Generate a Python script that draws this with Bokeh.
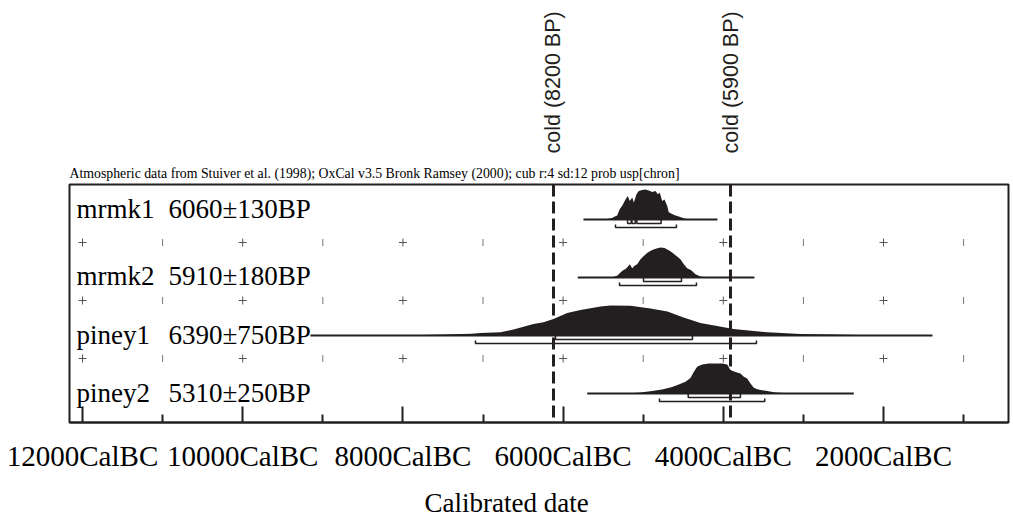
import math
from bokeh.plotting import figure
from bokeh.models import Range1d, FixedTicker, Label, Span, LinearAxis, Title
from bokeh.embed import file_html
from bokeh.resources import INLINE

# ---------------- data ----------------
samples = ["mrmk1", "mrmk2", "piney1", "piney2"]
bp_dates = ["6060\u00b1130BP", "5910\u00b1180BP", "6390\u00b1750BP", "5310\u00b1250BP"]

# calibrated probability (relative to peak) at years BC
mrmk1_bc = [5500, 5450, 5387, 5367, 5325, 5292, 5262, 5221, 5193, 5167, 5137, 5117, 5084, 5055,
            5013, 4972, 4930, 4888, 4847, 4818, 4793, 4763, 4734, 4701, 4681, 4639, 4597, 4556,
            4493, 4451, 4400]
mrmk1_p = [0.0, 0.02, 0.05, 0.08, 0.13, 0.35, 0.46, 0.67, 0.78, 0.62, 0.73, 0.57, 0.84, 0.95,
           0.98, 1.0, 0.97, 0.92, 0.95, 0.84, 0.89, 0.62, 0.67, 0.46, 0.24, 0.18, 0.13, 0.10,
           0.04, 0.01, 0.0]

mrmk2_bc = [5400, 5325, 5284, 5250, 5221, 5193, 5167, 5137, 5109, 5075, 5034, 4993, 4943, 4888,
            4834, 4784, 4734, 4681, 4639, 4585, 4535, 4493, 4451, 4401, 4347, 4285, 4201, 4100]
mrmk2_p = [0.0, 0.06, 0.17, 0.24, 0.28, 0.36, 0.44, 0.31, 0.39, 0.44, 0.61, 0.72, 0.83, 0.92,
           0.97, 1.0, 0.98, 0.91, 0.83, 0.72, 0.61, 0.44, 0.31, 0.24, 0.11, 0.03, 0.01, 0.0]

piney1_bc = [8300, 7905, 7493, 7144, 7031, 6782, 6619, 6370, 6245, 6120, 5949, 5783, 5533, 5408,
             5159, 4909, 4697, 4497, 4285, 4077, 3873, 3452, 3036, 2625, 2163, 1800]
piney1_p = [0.0, 0.01, 0.03, 0.06, 0.08, 0.11, 0.20, 0.38, 0.44, 0.55, 0.75, 0.85, 0.97, 1.0,
            0.99, 0.90, 0.80, 0.60, 0.42, 0.32, 0.22, 0.11, 0.05, 0.03, 0.01, 0.0]

piney2_bc = [5200, 5034, 4888, 4763, 4639, 4556, 4472, 4410, 4369, 4326, 4264, 4181, 4098, 4014,
             3952, 3910, 3848, 3786, 3744, 3702, 3661, 3619, 3577, 3515, 3452, 3349, 3183, 3000]
piney2_p = [0.0, 0.03, 0.08, 0.13, 0.22, 0.30, 0.39, 0.52, 0.72, 0.89, 0.97, 1.0, 1.0, 1.0,
            0.97, 0.78, 0.72, 0.67, 0.56, 0.50, 0.33, 0.19, 0.14, 0.11, 0.08, 0.03, 0.01, 0.0]

# extent of the distribution base line (years BC)
line_start_bc = [5746, 5817, 9154, 5699]
line_end_bc = [4073, 3611, 1389, 2371]

# 68.2% and 95.4% ranges (years BC)
mrmk1_r68 = [(5195, 5150), (5140, 5100), (5080, 4776)]
mrmk1_r95 = [(5346, 4585)]
mrmk2_r68 = [(4996, 4522)]
mrmk2_r95 = [(5296, 4335)]
piney1_r68 = [(6095, 4385)]
piney1_r95 = [(7094, 3586)]
piney2_r68 = [(4438, 3786)]
piney2_r95 = [(4797, 3482)]

# cold events (years BC as drawn)
event_labels = ["cold (8200 BP)", "cold (5900 BP)"]
event_bc = [6120, 3910]

# axis
major_ticks_bc = [12000, 10000, 8000, 6000, 4000, 2000]
minor_ticks_bc = [11000, 9000, 7000, 5000, 3000, 1000]
tick_labels = ["12000CalBC", "10000CalBC", "8000CalBC", "6000CalBC", "4000CalBC", "2000CalBC"]

header = ("Atmospheric data from Stuiver et al. (1998); OxCal v3.5 Bronk Ramsey (2000); "
          "cub r:4 sd:12 prob usp[chron]")
axis_title = "Calibrated date"

dists = [(mrmk1_bc, mrmk1_p), (mrmk2_bc, mrmk2_p), (piney1_bc, piney1_p), (piney2_bc, piney2_p)]
r68s = [mrmk1_r68, mrmk2_r68, piney1_r68, piney2_r68]
r95s = [mrmk1_r95, mrmk2_r95, piney1_r95, piney2_r95]

# ---------------- layout ----------------
W, H = 1013, 529
ML, MR, MT, MB = 69, 5, 184, 107
FRAME_W = W - ML - MR
FRAME_H = H - MT - MB
PX_PER_YEAR = 0.0801
X_START = -12000 - 13 / PX_PER_YEAR
X_END = X_START + FRAME_W / PX_PER_YEAR


def px_x(page_x):
    return X_START + (page_x - ML) / PX_PER_YEAR


INK = "#231f20"
ROW_TOP = 203
ROW_STEP = 58
PEAK = 30
label_dy = [11, 2, 1, 1]

p = figure(width=W, height=H, output_backend="svg", toolbar_location=None,
           x_range=Range1d(X_START, X_END), y_range=Range1d(0, FRAME_H),
           y_axis_location=None, min_border_left=ML, min_border_right=MR,
           min_border_top=MT, min_border_bottom=MB)
p.title.visible = False
p.grid.visible = False
p.outline_line_color = INK
p.outline_line_width = 2
p.background_fill_color = "white"
p.border_fill_color = "white"

ax = p.xaxis[0]
ax.ticker = FixedTicker(ticks=[-t for t in major_ticks_bc], minor_ticks=[-t for t in minor_ticks_bc])
ax.major_label_overrides = {-t: lab for t, lab in zip(major_ticks_bc, tick_labels)}
ax.major_tick_in = 16
ax.major_tick_out = 0
ax.minor_tick_in = 8
ax.minor_tick_out = 0
ax.major_tick_line_width = 2
ax.minor_tick_line_width = 2
ax.major_tick_line_color = INK
ax.minor_tick_line_color = INK
ax.axis_line_color = INK
ax.axis_line_width = 2
ax.major_label_text_font = "Liberation Serif"
ax.major_label_text_font_size = "29px"
ax.major_label_text_color = "black"
ax.major_label_standoff = 17

# header line just above the frame
p.add_layout(Title(text=header, align="left", text_font="Liberation Serif",
                   text_font_size="13.8px", text_font_style="normal", text_color="black",
                   standoff=8), "above")

# event labels as a top axis with vertical labels
ev_ax = LinearAxis(ticker=FixedTicker(ticks=[-b for b in event_bc], minor_ticks=[]),
                   major_label_overrides={-b: lab for b, lab in zip(event_bc, event_labels)},
                   major_label_orientation=math.pi / 2,
                   axis_line_color=None, major_tick_line_color=None, minor_tick_line_color=None,
                   major_tick_in=0, major_tick_out=0,
                   major_label_text_font="Liberation Sans", major_label_text_font_size="21.5px",
                   major_label_text_color=INK, major_label_standoff=6)
p.add_layout(ev_ax, "above")

# axis title below the tick labels
p.add_layout(Title(text=axis_title, align="left", offset=355, text_font="Liberation Serif",
                   text_font_size="27px", text_font_style="normal", text_color="black",
                   standoff=22), "below")

# cold event lines
for bc in event_bc:
    p.add_layout(Span(location=-bc, dimension="height", line_color=INK, line_width=3,
                      line_dash="12 5"))

# crosses between rows
for i in range(len(samples) - 1):
    yc = ROW_TOP - ROW_STEP * i - 23
    p.scatter(x=[-t for t in major_ticks_bc], y=[yc] * len(major_ticks_bc), marker="cross",
              size=8, line_color="#555555", line_width=1)
    p.scatter(x=[-t for t in minor_ticks_bc], y=[yc] * len(minor_ticks_bc), marker="dash",
              angle=math.pi / 2, size=7, line_color="#777777", line_width=1)

for i, name in enumerate(samples):
    base = ROW_TOP - ROW_STEP * i
    bc, pr = dists[i]
    xs = [-v for v in bc]
    p.varea(x=xs, y1=[base] * len(xs), y2=[base + PEAK * v for v in pr], fill_color=INK)
    p.segment(x0=[-line_start_bc[i]], y0=[base], x1=[-line_end_bc[i]], y1=[base],
              line_color=INK, line_width=2)
    xs68, ys68 = [], []
    for a, b in r68s[i]:
        xs68.append([-a, -a, -b, -b])
        ys68.append([base, base - 4, base - 4, base])
    p.multi_line(xs=xs68, ys=ys68, line_color=INK, line_width=1.5)
    xs95, ys95 = [], []
    for a, b in r95s[i]:
        xs95.append([-a, -a, -b, -b])
        ys95.append([base - 5, base - 8, base - 8, base - 5])
    p.multi_line(xs=xs95, ys=ys95, line_color=INK, line_width=1.5)

    ly = base + label_dy[i]
    p.add_layout(Label(x=px_x(76), y=ly, text=name, text_font="Liberation Serif",
                       text_font_size="27px", text_color="black", text_baseline="alphabetic"))
    p.add_layout(Label(x=px_x(168), y=ly, text=bp_dates[i], text_font="Liberation Serif",
                       text_font_size="27px", text_color="black", text_baseline="alphabetic"))

open("out.html", "w").write(file_html(p, INLINE))
